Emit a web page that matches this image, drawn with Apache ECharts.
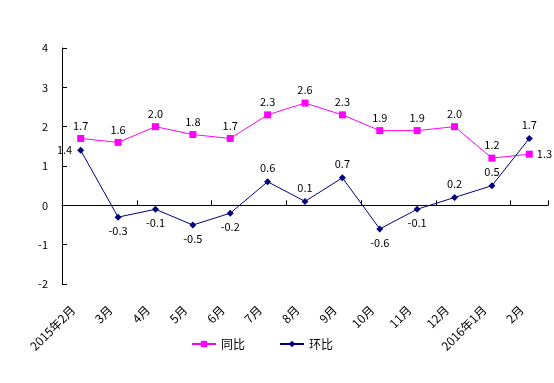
<!DOCTYPE html>
<html><head><meta charset="utf-8">
<script src="https://cdn.jsdelivr.net/npm/echarts@6/dist/echarts.min.js"></script>
<style>html,body{margin:0;padding:0;background:#fff}#c{width:554px;height:383px}</style>
</head><body><div id="c"></div>
<script>
const categories = ['2015年2月','3月','4月','5月','6月','7月','8月','9月','10月','11月','12月','2016年1月','2月'];
const yoy = [1.7,1.6,2.0,1.8,1.7,2.3,2.6,2.3,1.9,1.9,2.0,1.2,1.3];
const mom = [1.4,-0.3,-0.1,-0.5,-0.2,0.6,0.1,0.7,-0.6,-0.1,0.2,0.5,1.7];
const yTicks = {min:-2, max:4, interval:1};

const font = '"Noto Sans CJK SC", "DejaVu Sans", sans-serif';
const chart = echarts.init(document.getElementById('c'));
function lblPos(v, i, arr, s) {
  if (s === 'mom') {
    if (i === 0) return 'left';
    return v >= 0 ? 'top' : 'bottom';
  }
  if (i === arr.length - 1) return 'right';
  return 'top';
}
chart.setOption({
  animation: false,
  textStyle: {fontFamily: font},
  grid: {left: 62, right: 6, top: 48, bottom: 99},
  legend: {
    bottom: 28, left: 186, itemGap: 34, itemWidth: 24, itemHeight: 8,
    textStyle: {fontSize: 12, color: '#000', fontFamily: font},
    data: ['同比','环比']
  },
  xAxis: [{
    type: 'category', data: categories, position: 'bottom',
    axisLine: {show: false, onZero: false}, axisTick: {show: false},
    axisLabel: {rotate: 45, fontSize: 12, color: '#000', margin: 16, interval: 0, padding: [0, 11, 0, 0]}
  }, {
    type: 'category', data: categories, position: 'bottom',
    axisLine: {show: true, onZero: true, lineStyle: {color: '#000', width: 1}},
    axisTick: {show: true, inside: true, length: 5, lineStyle: {color: '#000'}},
    axisLabel: {show: false}
  }],
  yAxis: {
    type: 'value', min: yTicks.min, max: yTicks.max, interval: yTicks.interval,
    axisLine: {show: true, onZero: false, lineStyle: {color: '#000', width: 1}},
    axisTick: {show: true, inside: true, length: 5, lineStyle: {color: '#000'}},
    splitLine: {show: false},
    axisLabel: {fontSize: 11, color: '#000', margin: 14}
  },
  series: [{
    name: '同比', type: 'line', xAxisIndex: 0,
    data: yoy.map((v, i) => ({value: v, label: {position: lblPos(v, i, yoy, 'yoy')}})),
    symbol: 'rect', symbolSize: 7,
    lineStyle: {color: '#FF00FF', width: 1}, itemStyle: {color: '#FF00FF'},
    label: {show: true, fontSize: 11, color: '#000', distance: 4, formatter: p => p.value.toFixed(1)}
  }, {
    name: '环比', type: 'line', xAxisIndex: 0,
    data: mom.map((v, i) => ({value: v, label: {position: lblPos(v, i, mom, 'mom')}})),
    symbol: 'diamond', symbolSize: 7,
    lineStyle: {color: '#000080', width: 1}, itemStyle: {color: '#000080'},
    label: {show: true, fontSize: 11, color: '#000', distance: 5, formatter: p => p.value.toFixed(1)}
  }]
});
</script></body></html>
